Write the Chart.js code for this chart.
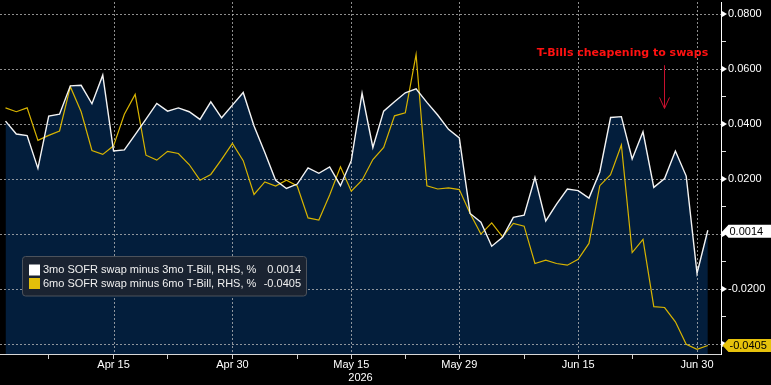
<!DOCTYPE html>
<html>
<head>
<meta charset="utf-8">
<script src="https://cdn.jsdelivr.net/npm/chart.js@4.4.1/dist/chart.umd.min.js"></script>
<style>
  html, body { margin: 0; padding: 0; background: #000; }
  #wrap { width: 771px; height: 385px; }
</style>
</head>
<body>
<div id="wrap"><canvas id="myChart" width="771" height="385"></canvas></div>
<script>
// weekdays, Apr 1 2026 .. Jul 1 2026
const dates = [
  'Apr 1', 'Apr 2', 'Apr 3', 'Apr 6', 'Apr 7', 'Apr 8', 'Apr 9', 'Apr 10', 'Apr 13', 'Apr 14',
  'Apr 15', 'Apr 16', 'Apr 17', 'Apr 20', 'Apr 21', 'Apr 22', 'Apr 23', 'Apr 24', 'Apr 27', 'Apr 28',
  'Apr 29', 'Apr 30', 'May 1', 'May 4', 'May 5', 'May 6', 'May 7', 'May 8', 'May 11', 'May 12',
  'May 13', 'May 14', 'May 15', 'May 18', 'May 19', 'May 20', 'May 21', 'May 22', 'May 25', 'May 26',
  'May 27', 'May 28', 'May 29', 'Jun 1', 'Jun 2', 'Jun 3', 'Jun 4', 'Jun 5', 'Jun 8', 'Jun 9',
  'Jun 10', 'Jun 11', 'Jun 12', 'Jun 15', 'Jun 16', 'Jun 17', 'Jun 18', 'Jun 19', 'Jun 22', 'Jun 23',
  'Jun 24', 'Jun 25', 'Jun 26', 'Jun 29', 'Jun 30', 'Jul 1'
];

const swap3m = [
  0.0411, 0.0364, 0.0358, 0.0239, 0.0429, 0.0436, 0.0539, 0.0541, 0.0474, 0.0578,
  0.0302, 0.0306, 0.0362, 0.0418, 0.0475, 0.0447, 0.0459, 0.0445, 0.0417, 0.0481,
  0.0423, 0.0469, 0.0515, 0.0393, 0.0297, 0.0196, 0.0166, 0.0182, 0.0241, 0.0221,
  0.0244, 0.0176, 0.0267, 0.0512, 0.0315, 0.0447, 0.0481, 0.0514, 0.0528, 0.0479,
  0.0433, 0.0381, 0.0350, 0.0075, 0.0043, -0.0044, -0.0012, 0.0061, 0.0069, 0.0206,
  0.0048, 0.0109, 0.0164, 0.0158, 0.0131, 0.0226, 0.0424, 0.0427, 0.0273, 0.0372,
  0.0170, 0.0202, 0.0302, 0.0211, -0.0143, 0.0014
];

const swap6m = [
  0.0459, 0.0445, 0.0459, 0.0341, 0.0359, 0.0375, 0.0536, 0.0445, 0.0304, 0.0290,
  0.0321, 0.0436, 0.0508, 0.0287, 0.0269, 0.0301, 0.0293, 0.0253, 0.0196, 0.0217,
  0.0272, 0.0330, 0.0267, 0.0144, 0.0190, 0.0175, 0.0196, 0.0175, 0.0059, 0.0051,
  0.0142, 0.0245, 0.0156, 0.0196, 0.0271, 0.0315, 0.0430, 0.0441, 0.0653, 0.0176,
  0.0164, 0.0168, 0.0162, 0.0075, 0.0000, 0.0041, -0.0010, 0.0039, 0.0029, -0.0107,
  -0.0095, -0.0107, -0.0113, -0.0092, -0.0034, 0.0176, 0.0216, 0.0324, -0.0067, -0.0019,
  -0.0264, -0.0267, -0.0319, -0.0401, -0.0419, -0.0405
];

const seriesNames = ['3mo SOFR swap minus 3mo T-Bill, RHS, %', '6mo SOFR swap minus 6mo T-Bill, RHS, %'];
const xMajorLabels = ['Apr 15', 'Apr 30', 'May 15', 'May 29', 'Jun 15', 'Jun 30'];
const xMinorLabels = ['Apr 7', 'Apr 22', 'May 8', 'May 22', 'Jun 8', 'Jun 22'];
const yTicks = [-0.04, -0.03, -0.02, -0.01, 0, 0.01, 0.02, 0.03, 0.04, 0.05, 0.06, 0.07, 0.08];
const yGridTicks = [-0.04, -0.02, 0, 0.02, 0.04, 0.06, 0.08];
const yLabelTicks = [-0.02, 0.02, 0.04, 0.06, 0.08];
const noteText = 'T-Bills cheapening to swaps';

const WHITE = '#f4f4f4';
const YELLOW = '#d8b400';
const NAVY = '#031e3c';
const FONT = '"Liberation Sans", Arial, sans-serif';

const xMajorIdx = xMajorLabels.map(d => dates.indexOf(d));
const xMinorIdx = xMinorLabels.map(d => dates.indexOf(d));
const last3m = swap3m[swap3m.length - 1];
const last6m = swap6m[swap6m.length - 1];

// dotted grid, drawn over the area fill but under the lines
const gridPlugin = {
  id: 'dottedGrid',
  beforeDatasetsDraw(chart) {
    const { ctx, chartArea: a, scales: { x, y } } = chart;
    ctx.save();
    ctx.strokeStyle = 'rgba(190,190,190,0.75)';
    ctx.lineWidth = 1;
    ctx.setLineDash([2, 2]);
    ctx.beginPath();
    xMajorIdx.forEach(i => {
      const px = Math.round(x.getPixelForValue(i)) + 0.5;
      ctx.moveTo(px, a.top); ctx.lineTo(px, a.bottom);
    });
    yGridTicks.forEach(v => {
      const py = Math.round(y.getPixelForValue(v)) + 0.5;
      ctx.moveTo(a.left, py); ctx.lineTo(a.right, py);
    });
    ctx.stroke();
    ctx.restore();
  }
};

function drawTag(ctx, x0, py, bg, text) {
  ctx.fillStyle = bg;
  ctx.beginPath();
  ctx.moveTo(x0, py);
  ctx.lineTo(x0 + 6, py - 6.5);
  ctx.lineTo(771, py - 6.5);
  ctx.lineTo(771, py + 6.5);
  ctx.lineTo(x0 + 6, py + 6.5);
  ctx.closePath();
  ctx.fill();
  ctx.fillStyle = '#000';
  ctx.font = '11px ' + FONT;
  ctx.textAlign = 'left';
  ctx.textBaseline = 'middle';
  ctx.fillText(text, x0 + 7, py + 0.5);
}

const overlayPlugin = {
  id: 'overlay',
  afterDraw(chart) {
    const { ctx, chartArea: a, scales: { x, y } } = chart;
    ctx.save();

    // triangle markers on the right axis
    ctx.fillStyle = '#fff';
    yGridTicks.forEach(v => {
      const py = y.getPixelForValue(v);
      ctx.beginPath();
      ctx.moveTo(a.right + 1, py - 3);
      ctx.lineTo(a.right + 6, py);
      ctx.lineTo(a.right + 1, py + 3);
      ctx.closePath();
      ctx.fill();
    });

    // last value tags
    drawTag(ctx, a.right + 1.5, y.getPixelForValue(last3m) + 1, '#ffffff', last3m.toFixed(4));
    drawTag(ctx, a.right + 1.5, y.getPixelForValue(last6m), '#e6c20c', last6m.toFixed(4));

    // annotation
    ctx.fillStyle = '#ff1111';
    ctx.font = 'bold 11px "DejaVu Sans", sans-serif';
    ctx.textAlign = 'center';
    ctx.textBaseline = 'middle';
    ctx.fillText(noteText, x.getPixelForValue(57.1), y.getPixelForValue(0.0658));
    const ax = Math.round(x.getPixelForValue(60.9)) + 0.5;
    const ay0 = y.getPixelForValue(0.0614);
    const ay1 = y.getPixelForValue(0.0457);
    ctx.strokeStyle = '#c8102e';
    ctx.lineWidth = 1;
    ctx.beginPath();
    ctx.moveTo(ax, ay0); ctx.lineTo(ax, ay1);
    ctx.moveTo(ax - 5, ay1 - 11); ctx.lineTo(ax, ay1); ctx.lineTo(ax + 5, ay1 - 11);
    ctx.stroke();

    // legend box
    const lx = 22.5, ly = 256.5, lw = 284, lh = 39.5;
    ctx.fillStyle = '#1a2331';
    ctx.strokeStyle = '#4c525b';
    ctx.beginPath();
    ctx.roundRect(lx, ly, lw, lh, 3);
    ctx.fill();
    ctx.stroke();
    const rows = [
      { c: '#ffffff', t: seriesNames[0], v: last3m.toFixed(4), yc: 270 },
      { c: '#e2bf0a', t: seriesNames[1], v: last6m.toFixed(4), yc: 283.5 }
    ];
    ctx.font = '11px ' + FONT;
    ctx.textBaseline = 'middle';
    rows.forEach(r => {
      ctx.fillStyle = r.c;
      ctx.fillRect(29, r.yc - 5.5, 11, 11);
      ctx.fillStyle = '#f0f0f0';
      ctx.textAlign = 'left';
      ctx.fillText(r.t, 43, r.yc);
      ctx.textAlign = 'right';
      ctx.fillText(r.v, 301, r.yc);
    });

    ctx.restore();
  }
};

const ctx = document.getElementById('myChart');
new Chart(ctx, {
  type: 'line',
  data: {
    datasets: [
      {
        label: seriesNames[0],
        data: swap3m.map((v, i) => ({ x: i, y: v })),
        borderColor: WHITE,
        borderWidth: 1.4,
        backgroundColor: NAVY,
        fill: 'start',
        pointRadius: 0,
        tension: 0
      },
      {
        label: seriesNames[1],
        data: swap6m.map((v, i) => ({ x: i, y: v })),
        borderColor: YELLOW,
        borderWidth: 1.2,
        fill: false,
        pointRadius: 0,
        tension: 0
      }
    ]
  },
  options: {
    responsive: false,
    animation: false,
    layout: { padding: { top: 2, left: 0, right: 0, bottom: 0 } },
    plugins: {
      legend: { display: false },
      tooltip: { enabled: false },
      filler: { drawTime: 'beforeDatasetsDraw' }
    },
    scales: {
      x: {
        type: 'linear',
        min: -0.51,
        max: 66.22,
        afterBuildTicks: s => {
          s.ticks = [...xMajorIdx, ...xMinorIdx].sort((a, b) => a - b).map(v => ({ value: v }));
        },
        afterFit: s => { s.height = 31; s.paddingLeft = 0; s.paddingRight = 0; },
        ticks: {
          autoSkip: false,
          maxRotation: 0,
          color: '#ffffff',
          font: { size: 11, family: FONT },
          padding: -1,
          callback: v => (xMajorIdx.includes(v) ? dates[v] : '')
        },
        grid: { drawOnChartArea: false, drawTicks: true, tickLength: 5, tickColor: '#cfcfcf' },
        border: { color: '#d8d8d8', width: 1 },
        title: { display: true, text: '2026', color: '#ffffff', font: { size: 11, family: FONT }, padding: 0 }
      },
      y: {
        position: 'right',
        min: -0.0436,
        max: 0.0844,
        afterBuildTicks: s => { s.ticks = yTicks.map(v => ({ value: v })); },
        afterFit: s => { s.width = 50; s.paddingTop = 0; s.paddingBottom = 0; },
        ticks: {
          color: '#ffffff',
          font: { size: 11, family: FONT },
          padding: 2,
          callback: v => (yLabelTicks.includes(v) ? v.toFixed(4) : '')
        },
        grid: {
          drawOnChartArea: false,
          drawTicks: true,
          tickLength: 5,
          tickColor: c => (yGridTicks.includes(c.tick.value) ? 'transparent' : '#dddddd')
        },
        border: { color: '#ffffff', width: 1 }
      }
    }
  },
  plugins: [gridPlugin, overlayPlugin]
});
</script>
</body>
</html>
